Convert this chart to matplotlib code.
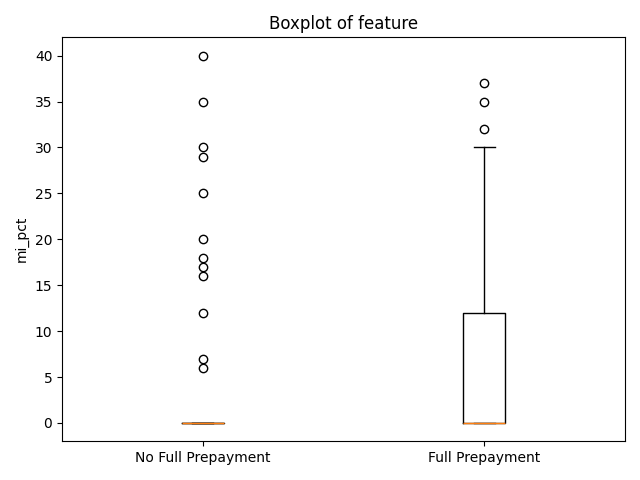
import matplotlib
matplotlib.use("Agg")
import matplotlib.pyplot as plt

labels = ["No Full Prepayment", "Full Prepayment"]
q1 = [0, 0]
med = [0, 0]
q3 = [0, 12]
whislo = [0, 0]
whishi = [0, 30]
fliers = [
    [6, 7, 12, 16, 17, 18, 20, 25, 29, 30, 35, 40],
    [32, 35, 37],
]

stats = []
for i in range(2):
    stats.append(dict(label=labels[i], q1=q1[i], med=med[i], q3=q3[i],
                      whislo=whislo[i], whishi=whishi[i], fliers=fliers[i]))

fig, ax = plt.subplots(figsize=(6.4, 4.8), dpi=100)
ax.bxp(stats)
ax.set_title("Boxplot of feature")
ax.set_ylabel("mi_pct")
ax.set_ylim(-2, 42)
fig.tight_layout()
fig.savefig("out.png")
